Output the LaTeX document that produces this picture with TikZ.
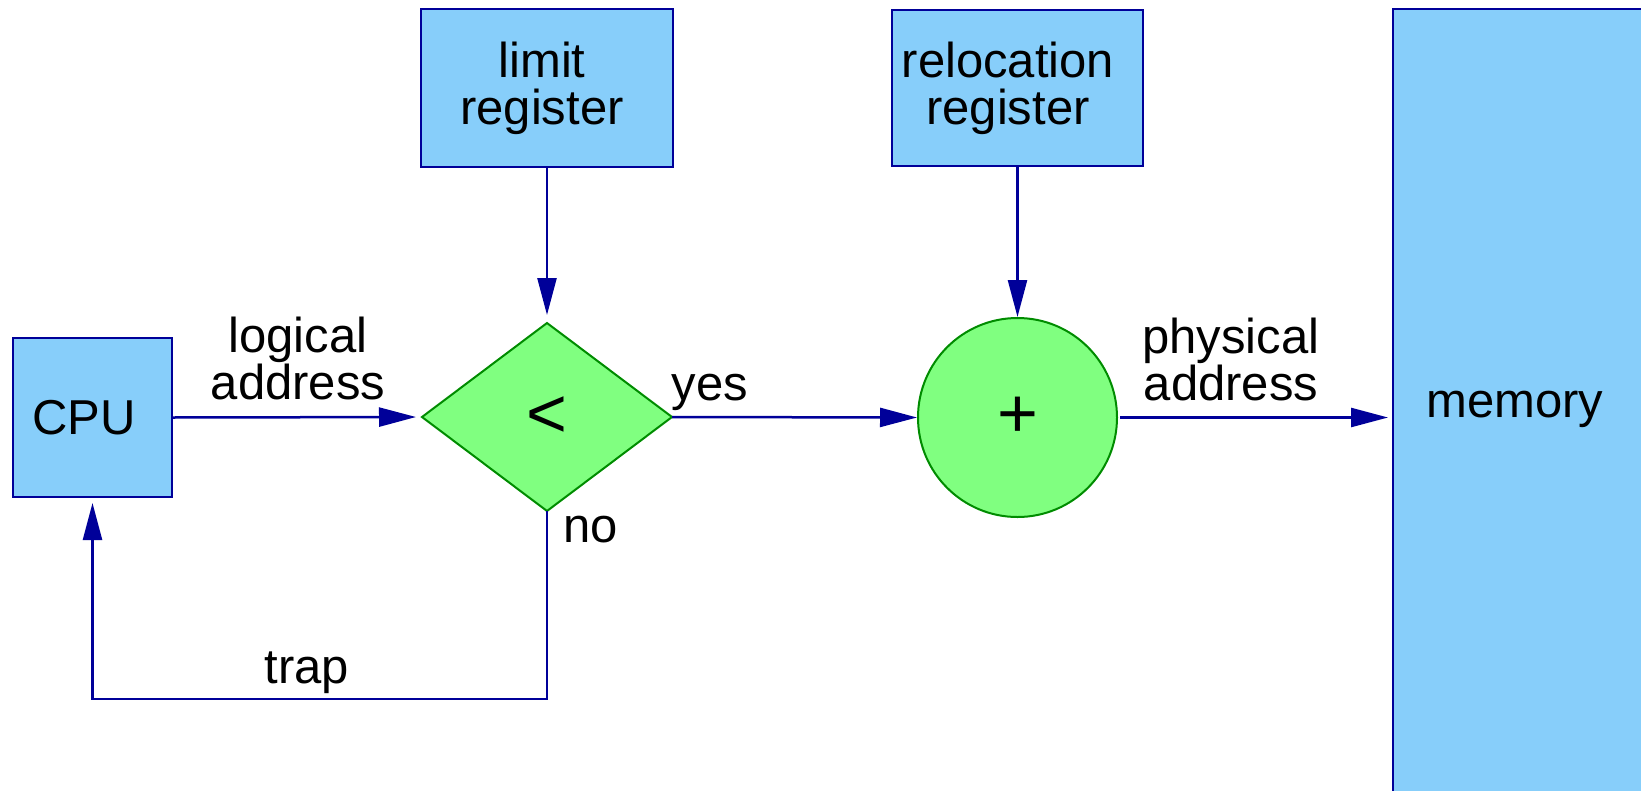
\documentclass[tikz,border=0pt]{standalone}
\usepackage{fontspec}
\setmainfont{Liberation Sans}
\usetikzlibrary{shapes.geometric,arrows.meta}
\definecolor{boxfill}{HTML}{87CEFA}
\definecolor{navyline}{HTML}{000099}
\definecolor{testfill}{HTML}{80FF80}
\definecolor{testline}{HTML}{008C00}

\begin{document}
\begin{tikzpicture}[x=1pt,y=-1pt,
  every node/.style={font=\fontsize{49}{47}\selectfont, inner sep=0pt, outer sep=0pt},
  regbox/.style={rectangle, draw=navyline, fill=boxfill, line width=2.5pt, align=center},
  testshape/.style={draw=testline, fill=testfill, line width=2pt, font=\fontsize{70}{70}\selectfont},
  flow/.style={draw=navyline, line width=2.5pt, -{Triangle[length=37pt,width=19pt]}},
  lbl/.style={align=center}]
\useasboundingbox (0,0) rectangle (1641,790);

% registers, CPU and memory
\node[regbox, minimum width=159pt, minimum height=159pt] (cpu) at (92.5,417.5) {\hspace*{-17pt}CPU};
\node[regbox, minimum width=252pt, minimum height=158pt] (limit) at (547,88) {\hspace*{-10pt}limit\\\hspace*{-10pt}register};
\node[regbox, minimum width=251pt, minimum height=156pt] (reloc) at (1017.5,88) {\hspace*{-19pt}relocation\\\hspace*{-19pt}register};
\node[regbox, anchor=north west, minimum width=256pt, minimum height=800pt] (mem) at (1393,9) {\hspace*{-12pt}memory};

% comparison and addition
\node[testshape, diamond, minimum width=250pt, minimum height=188pt] (cmp) at (547,417) {<};
\node[testshape, circle, minimum size=199pt] (plus) at (1017.5,417.5) {+};

% connectors
\draw[flow, shorten >=6pt] (cpu.east) -- (cmp.west);
\draw[flow, shorten >=8pt] (limit.south) -- (cmp.north);
\draw[flow, shorten >=1pt] (reloc.south) -- (plus.north);
\draw[flow, shorten >=1pt] (cmp.east) -- (plus.west);
\draw[flow, shorten <=3pt, shorten >=5pt] (plus.east) -- (plus.east -| mem.west);
\coordinate (trapy) at (0,699);
\draw[flow, shorten >=6pt] (cmp.south) -- (cmp.south |- trapy) -| (cpu.south);

% labels
\node[lbl, anchor=south] (logaddr) at (298,400) {logical\\address};
\node[lbl, anchor=south] (physaddr) at (1231,401) {physical\\address};
\node[anchor=base] (yes) at (710,400) {yes};
\node[anchor=base] (no) at (590.5,542) {no};
\node[anchor=base] (trap) at (307,683) {trap};
\end{tikzpicture}
\end{document}
